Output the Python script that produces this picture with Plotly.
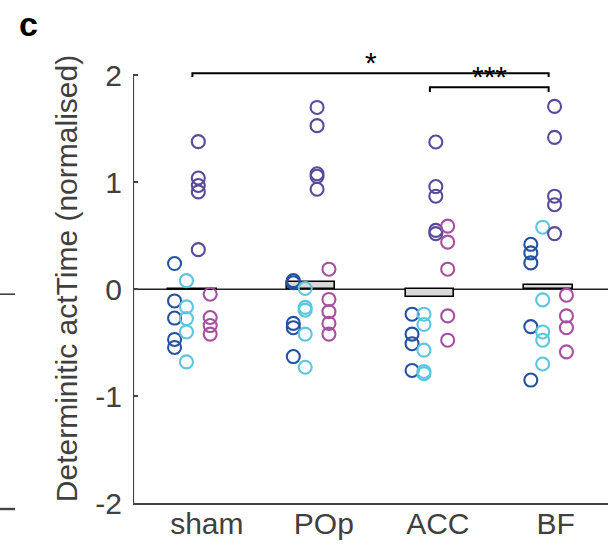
import plotly.graph_objects as go

categories = ["sham", "POp", "ACC", "BF"]

dark_blue = [
    [0.24, -0.11, -0.27, -0.47, -0.545],
    [0.08, 0.06, -0.32, -0.36, -0.63],
    [-0.234, -0.42, -0.51, -0.76],
    [0.42, 0.34, 0.246, -0.35, -0.85],
]
light_blue = [
    [0.08, -0.165, -0.275, -0.40, -0.68],
    [0.0065, -0.17, -0.196, -0.42, -0.73],
    [-0.234, -0.33, -0.57, -0.77, -0.79],
    [0.58, -0.10, -0.40, -0.477, -0.70],
]
purple = [
    [1.38, 1.04, 0.97, 0.91, 0.37],
    [1.70, 1.53, 1.08, 1.056, 0.935],
    [1.377, 0.96, 0.87, 0.55, 0.52],
    [1.71, 1.42, 0.87, 0.79, 0.52],
]
magenta = [
    [-0.047, -0.265, -0.34, -0.42],
    [0.187, -0.096, -0.21, -0.32, -0.42],
    [0.59, 0.44, 0.187, -0.25, -0.477],
    [-0.056, -0.25, -0.36, -0.586],
]
bar_means = [-0.012, 0.068, -0.075, 0.035]

series = [
    (dark_blue, "#2451a0", -0.15),
    (light_blue, "#5cc6e0", -0.05),
    (purple, "#5a4a9c", 0.05),
    (magenta, "#a650a0", 0.15),
]

group_pos = [1, 2, 3, 4]
label_pos = [1.122, 2.107, 3.067, 4.06]

FONT = "Liberation Sans, Arial"

fig = go.Figure()

fig.add_trace(go.Bar(
    x=group_pos, y=bar_means, width=0.41,
    marker=dict(color="#d9d9d9", line=dict(color="black", width=1.6)),
    showlegend=False, hoverinfo="skip",
))

for vals, color, off in series:
    xs, ys = [], []
    for g, pts in zip(group_pos, vals):
        xs += [g + off] * len(pts)
        ys += pts
    fig.add_trace(go.Scatter(
        x=xs, y=ys, mode="markers",
        marker=dict(symbol="circle-open", size=13, color=color,
                    line=dict(color=color, width=2.1)),
        showlegend=False, cliponaxis=False,
    ))

# significance brackets
brackets = [(1, 4, 2.02, 0.035, "*"), (3, 4, 1.89, 0.045, "***")]
for a, b, yb, drop, lab in brackets:
    fig.add_trace(go.Scatter(
        x=[group_pos[a - 1], group_pos[a - 1], group_pos[b - 1], group_pos[b - 1]],
        y=[yb - drop, yb, yb, yb - drop],
        mode="lines", line=dict(color="black", width=2),
        showlegend=False, hoverinfo="skip", cliponaxis=False,
    ))
    fig.add_annotation(
        x=(group_pos[a - 1] + group_pos[b - 1]) / 2, y=yb, text=lab,
        showarrow=False, yanchor="bottom", yshift=-8,
        font=dict(size=30, color="black", family=FONT),
    )

# zero line and left axis line
fig.add_shape(type="line", x0=0.5, x1=4.5, y0=0, y1=0,
              line=dict(color="#222222", width=1.6), layer="below")
fig.add_shape(type="line", x0=0.5, x1=0.5, y0=-2, y1=2,
              line=dict(color="#444444", width=2.2))

# stray marks from neighbouring panel
for yy in [294, 509]:
    fig.add_shape(type="line", xref="paper", yref="paper",
                  x0=-133 / 475, x1=-118 / 475,
                  y0=(503 - yy) / 449.4, y1=(503 - yy) / 449.4,
                  line=dict(color="#444444", width=1.6 if yy < 300 else 2.4))

fig.add_annotation(x=-116 / 475, y=(503 - 24) / 449.4, xref="paper", yref="paper",
                   text="<b>c</b>", showarrow=False, xanchor="left", yanchor="middle",
                   font=dict(size=34, color="black", family=FONT))

fig.update_layout(
    width=610, height=544,
    margin=dict(l=133, r=2, t=54, b=41, autoexpand=False),
    plot_bgcolor="white", paper_bgcolor="white",
    font=dict(family=FONT, color="#404040", size=30),
    xaxis=dict(range=[0.5, 4.5], tickvals=label_pos, ticktext=categories,
               showline=True, linecolor="#444444", linewidth=2.2,
               ticks="", showgrid=False, zeroline=False, mirror=False,
               automargin=False,
               tickfont=dict(size=30, color="#404040"), ticklabelstandoff=-7),
    yaxis=dict(range=[-2, 2.2], tickvals=[-2, -1, 0, 1, 2],
               ticktext=["-2", "-1", "0", "1", "2"],
               showline=False, ticks="inside", ticklen=5, tickwidth=1.5,
               tickcolor="#444444", showgrid=False, zeroline=False,
               automargin=False,
               tickfont=dict(size=30, color="#404040"), ticklabelstandoff=10,
               title=dict(text="Determinitic actTime (normalised)", standoff=8,
                          font=dict(size=30, color="#404040"))),
    bargap=0,
)

fig.write_html("out.html")
